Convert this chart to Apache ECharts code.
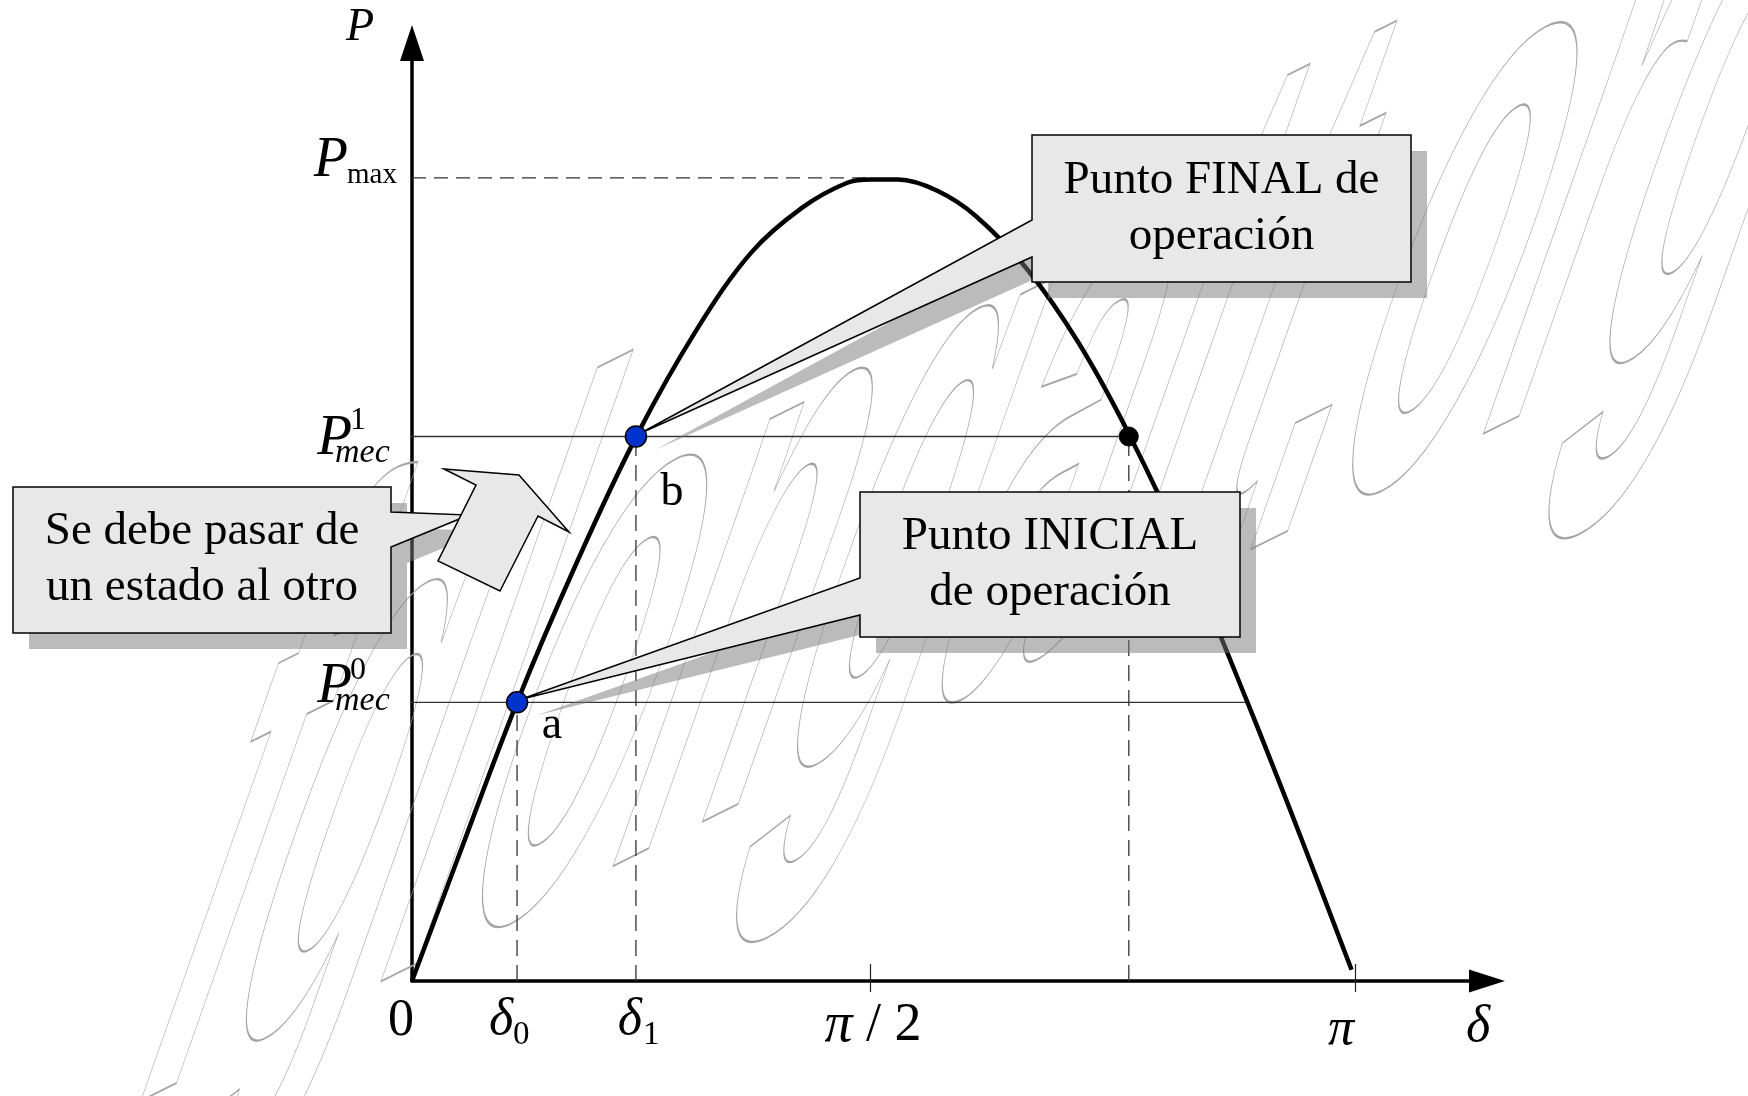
<!DOCTYPE html>
<html>
<head>
<meta charset="utf-8">
<script src="https://cdn.jsdelivr.net/npm/echarts@6/dist/echarts.min.js"></script>
<style>
html,body{margin:0;padding:0;background:#ffffff;}
#main{width:1748px;height:1096px;}
</style>
</head>
<body>
<div id="main"></div>
<script>
// ================= DATA =================
// Power-angle curve: delta in radians, P in per-unit of Pmax
const curveDelta = [0, 0.15, 0.35, 0.55, 0.75, 0.95, 1.13, 1.30, 1.45, 1.53, 1.62, 1.75, 1.88, 2.05, 2.22, 2.39, 2.58, 2.78, 2.96, 3.13];
const curvePower = [0, 0.150, 0.347, 0.522, 0.680, 0.812, 0.907, 0.963, 0.994, 0.998, 0.998, 0.984, 0.952, 0.886, 0.795, 0.680, 0.530, 0.350, 0.180, 0.014];

// operating points: a (initial), b (final), and the unstable crossing
const pointNames = ['a', 'b', ''];
const pointDelta = [0.35, 0.746, 2.388];
const pointPower = [0.347, 0.678, 0.678];

// reference levels
const levelNames = ['Pmax', 'Pmec1', 'Pmec0'];
const levelValues = [1.0, 0.678, 0.347];
const pmaxLineEnd = 1.536;      // dashed Pmax guide ends near pi/2
const pmec1LineEnd = 2.388;     // Pmec1 line ends at the black point
const pmec0LineEnd = 2.775;     // Pmec0 line ends on the falling branch
const lineStartDelta = -0.027;  // horizontal guides start just left of the axis

// x tick marks and labels
const tickValues = [1.526, 3.1416];
const xLabelValues = [0, 0.35, 0.746, 1.526, 3.1416];
const xLabelTexts = ['0', 'δ0', 'δ1', 'π / 2', 'π'];

// callout texts
const calloutFinal = 'Punto FINAL de\noperación';
const calloutInitial = 'Punto INICIAL\nde operación';
const calloutMove = 'Se debe pasar de\nun estado al otro';
const watermarkText = 'fglongatt.org';

// ================= CHART =================
const X_MAX = 3.5813, Y_MAX = 1.168;
const SERIF = '"Liberation Serif", "Times New Roman", serif';
const chart = echarts.init(document.getElementById('main'), null, {renderer: 'canvas'});

const dashStyle = {color: '#333', width: 1.3, type: [14, 8]};
const thinStyle = {color: '#333', width: 1.3};

function seg(x1, y1, x2, y2, style, z) {
  return {type: 'line', data: [[x1, y1], [x2, y2]], symbol: 'none', clip: false,
          lineStyle: style, silent: true, z: z || 3, animation: false};
}

const series = [
  seg(0, levelValues[0], pmaxLineEnd, levelValues[0], dashStyle),
  seg(lineStartDelta, levelValues[1], pmec1LineEnd, levelValues[1], thinStyle),
  seg(lineStartDelta, levelValues[2], pmec0LineEnd, levelValues[2], thinStyle),
  seg(pointDelta[0], 0, pointDelta[0], pointPower[0], {color: '#333', width: 1.3, type: [16, 9]}),
  seg(pointDelta[1], 0, pointDelta[1], pointPower[1], {color: '#333', width: 1.3, type: [16, 9]}),
  seg(pointDelta[2], 0, pointDelta[2], pointPower[2], {color: '#333', width: 1.3, type: [16, 9]}),
  {type: 'line', data: curveDelta.map((d, i) => [d, curvePower[i]]), smooth: 0.35, symbol: 'none',
   lineStyle: {color: '#000', width: 4.5}, z: 5, silent: true},
  {type: 'scatter', data: [[pointDelta[0], pointPower[0]], [pointDelta[1], pointPower[1]]], symbolSize: 21,
   itemStyle: {color: '#0033cc', borderColor: '#000', borderWidth: 1.5, opacity: 1}, z: 30, silent: true},
  {type: 'scatter', data: [[pointDelta[2], pointPower[2]]], symbolSize: 19,
   itemStyle: {color: '#000', borderColor: '#000', borderWidth: 1, opacity: 1}, z: 30, silent: true}
];

chart.setOption({
  animation: false,
  backgroundColor: '#fff',
  grid: {left: 412, right: 261, top: 43, bottom: 115, containLabel: false},
  xAxis: [{
    type: 'value', min: 0, max: X_MAX,
    axisLine: {show: true, onZero: false, symbol: ['none', 'triangle'], symbolSize: [23, 36], lineStyle: {color: '#000', width: 3.5}},
    axisTick: {show: true, inside: true, length: 17, customValues: tickValues, lineStyle: {color: '#222', width: 1.2}},
    axisLabel: {show: false}, splitLine: {show: false}
  }, {
    type: 'value', min: 0, max: X_MAX, position: 'bottom', offset: 0,
    axisLine: {show: false},
    axisTick: {show: true, inside: false, length: 11, customValues: tickValues, lineStyle: {color: '#222', width: 1.2}},
    axisLabel: {show: false}, splitLine: {show: false}
  }],
  yAxis: {
    type: 'value', min: 0, max: Y_MAX,
    axisLine: {show: true, onZero: false, symbol: ['none', 'triangle'], symbolSize: [24, 36], lineStyle: {color: '#000', width: 3.5}},
    axisTick: {show: false}, axisLabel: {show: false}, splitLine: {show: false}
  },
  series: series
});

// ---------- annotations, positioned through the axes ----------
function px(x, y) { return chart.convertToPixel({xAxisIndex: 0, yAxisIndex: 0}, [x, y]); }

function txt(x, y, text, font, align, extra) {
  return Object.assign({type: 'text', x: x, y: y, z: 40, silent: true,
    style: {text: text, font: font, fill: '#000', textAlign: align || 'center',
            verticalAlign: 'middle', textVerticalAlign: 'middle'}}, extra || {});
}
const fMain = (s, it) => (it ? 'italic ' : '') + s + 'px ' + SERIF;

const g = [];

// watermark (outlined, rotated and slanted bold text)
(function () {
  const F = 100;
  const font = 'bold ' + F + 'px "Liberation Sans"';
  const c2 = document.createElement('canvas').getContext('2d');
  c2.font = font;
  const W = c2.measureText(watermarkText).width;
  const B0 = [112, 1125], Ub = [1610, -800], Vup = [215, -610];
  const asc = 0.72 * F;
  const a = Ub[0] / W, c = Ub[1] / W, b = -Vup[0] / asc, d = -Vup[1] / asc;
  const E = (a + d) / 2, Fm = (a - d) / 2, G = (c + b) / 2, H = (c - b) / 2;
  const Q = Math.hypot(E, H), R = Math.hypot(Fm, G);
  const sx = Q + R, sy = Q - R;
  const a1 = Math.atan2(G, Fm), a2 = Math.atan2(H, E);
  const theta = (a2 - a1) / 2, phi = (a2 + a1) / 2;
  g.push({type: 'group', x: B0[0], y: B0[1], rotation: -phi, scaleX: sx, scaleY: sy, silent: true,
    children: [{type: 'group', rotation: -theta, children: [{
      type: 'text', x: 0, y: 0.21 * F, z: 1, silent: true,
      style: {text: watermarkText, font: font, fill: 'none', stroke: '#a4a4a4',
              lineWidth: 0.28, textAlign: 'left', verticalAlign: 'bottom', textVerticalAlign: 'bottom'}
    }]}]});
})();

// callouts
function callout(box, side, y1, y2, tip, text, fontSize) {
  const L = box[0], T = box[1], R = box[2], B = box[3];
  let pts;
  if (side === 'left') pts = [[L, T], [R, T], [R, B], [L, B], [L, y2], tip, [L, y1]];
  else pts = [[L, T], [R, T], [R, y1], tip, [R, y2], [R, B], [L, B]];
  const sh = pts.map(p => [p[0] + 16, p[1] + 16]);
  g.push({type: 'polygon', shape: {points: sh}, style: {fill: 'rgba(120,120,120,0.5)', stroke: null}, z: 20, silent: true});
  g.push({type: 'polygon', shape: {points: pts}, style: {fill: '#e8e8e8', stroke: '#000', lineWidth: 1.5, lineJoin: 'miter'}, z: 21, silent: true});
  g.push({type: 'text', x: (L + R) / 2, y: (T + B) / 2, z: 22, silent: true,
    style: {text: text, font: fontSize + 'px ' + SERIF, fill: '#000', textAlign: 'center',
            verticalAlign: 'middle', textVerticalAlign: 'middle', lineHeight: 56}});
}
const pA = px(pointDelta[0], pointPower[0]);
const pB = px(pointDelta[1], pointPower[1]);
callout([1032, 135, 1411, 282], 'left', 220, 257, [pB[0] + 4, pB[1] - 3], calloutFinal, 47);
callout([860, 492, 1240, 637], 'left', 578, 615, [pA[0] + 4, pA[1] - 3], calloutInitial, 47);
callout([13, 487, 391, 633], 'right', 512, 547, [469, 515], calloutMove, 47);

// block arrow
g.push({type: 'polygon', z: 21, silent: true,
  shape: {points: [[444, 469], [519, 475], [569, 532], [538, 516], [500, 591], [438, 561], [476, 485]]},
  style: {fill: '#e8e8e8', stroke: '#000', lineWidth: 1.5}});

// point letters
g.push(txt(pA[0] + 35, pA[1] + 24, pointNames[0], fMain(46)));
g.push(txt(pB[0] + 36, pB[1] + 56, pointNames[1], fMain(46)));

// y axis math labels
const o = px(0, 0);
const yTop = px(0, Y_MAX);
g.push(txt(yTop[0] - 52, yTop[1] - 15, 'P', fMain(46, true)));
const yMax = px(0, levelValues[0])[1];
g.push(txt(o[0] - 64, yMax - 17, 'P', fMain(56, true), 'right'));
g.push(txt(o[0] - 65, yMax - 3, 'max', fMain(29), 'left'));
const y1 = px(0, levelValues[1])[1];
g.push(txt(o[0] - 60, y1 + 3, 'P', fMain(57, true), 'right'));
g.push(txt(o[0] - 62, y1 - 16, '1', fMain(32), 'left'));
g.push(txt(o[0] - 77, y1 + 17, 'mec', fMain(34, true), 'left'));
const y0 = px(0, levelValues[2])[1];
g.push(txt(o[0] - 60, y0 - 15, 'P', fMain(57, true), 'right'));
g.push(txt(o[0] - 62, y0 - 32, '0', fMain(32), 'left'));
g.push(txt(o[0] - 77, y0 - 1, 'mec', fMain(34, true), 'left'));

// x axis labels
const xl = xLabelValues.map(v => px(v, 0));
g.push(txt(xl[0][0] - 11, o[1] + 40, xLabelTexts[0], fMain(52)));
g.push(txt(xl[1][0] - 16, o[1] + 39, xLabelTexts[1].charAt(0), fMain(52, true)));
g.push(txt(xl[1][0] - 4, o[1] + 54, xLabelTexts[1].charAt(1), fMain(33), 'left'));
g.push(txt(xl[2][0] - 6, o[1] + 39, xLabelTexts[2].charAt(0), fMain(52, true)));
g.push(txt(xl[2][0] + 7, o[1] + 54, xLabelTexts[2].charAt(1), fMain(33), 'left'));
// pi / 2 : italic pi, upright "/ 2"
g.push({type: 'text', x: xl[3][0] + 3, y: o[1] + 45, z: 40, silent: true,
  style: {text: '{i|π}{u| / 2}', textAlign: 'center', verticalAlign: 'middle', textVerticalAlign: 'middle',
          rich: {i: {font: fMain(56, true), fill: '#000'}, u: {font: fMain(54), fill: '#000'}}}});
g.push(txt(xl[4][0] - 14, o[1] + 49, xLabelTexts[4], fMain(52, true)));
const xEnd = px(X_MAX, 0);
g.push(txt(xEnd[0] - 9, o[1] + 46, 'δ', fMain(52, true)));

chart.setOption({graphic: {elements: g}});
</script>
</body>
</html>
